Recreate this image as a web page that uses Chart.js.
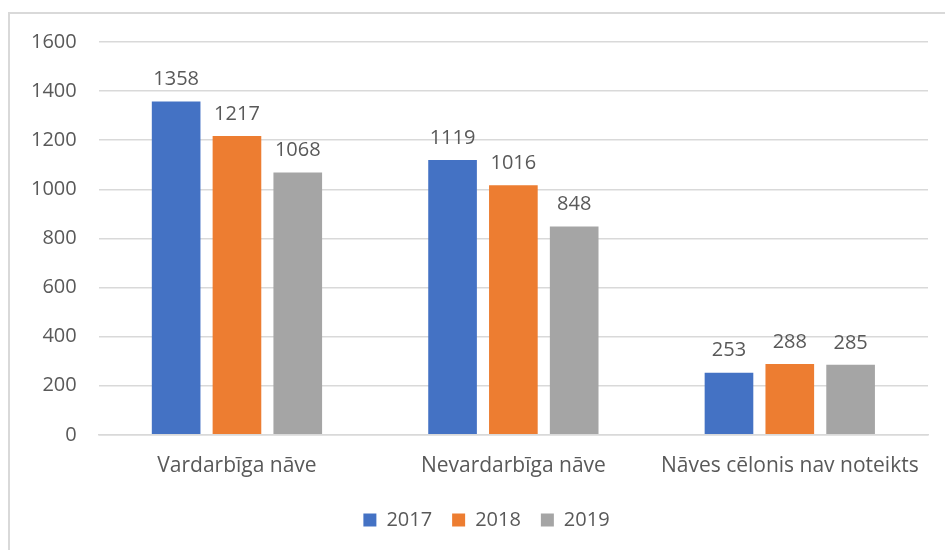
<!DOCTYPE html>
<html>
<head>
<meta charset="utf-8">
<script src="https://cdn.jsdelivr.net/npm/chart.js@4"></script>
<style>
  html, body { margin: 0; padding: 0; background: #fff; }
  #wrap { position: relative; width: 945px; height: 550px; }
  #frame { position: absolute; left: 8px; top: 12px; right: -5px; bottom: -5px;
           border-top: 2px solid #d9d9d9; border-left: 2px solid #d9d9d9; }
  canvas { position: absolute; left: 0; top: 0; }
</style>
</head>
<body>
<div id="wrap">
  <div id="frame"></div>
  <canvas id="chart" width="945" height="550"></canvas>
</div>
<script>
// categories and series
const categories = ["Vardarbīga nāve", "Nevardarbīga nāve", "Nāves cēlonis nav noteikts"];
const years = ["2017", "2018", "2019"];
const values2017 = [1358, 1119, 253];
const values2018 = [1217, 1016, 288];
const values2019 = [1068, 848, 285];
const colors = ["#4472C4", "#ED7D31", "#A5A5A5"];

const FONT = "'Open Sans', 'Liberation Sans', sans-serif";
const TEXT = "#595959";

// draws the value above each bar
const valueLabels = {
  id: "valueLabels",
  afterDatasetsDraw(chart) {
    const ctx = chart.ctx;
    ctx.save();
    ctx.font = "20px " + FONT;
    ctx.fillStyle = TEXT;
    ctx.textAlign = "center";
    ctx.textBaseline = "bottom";
    chart.data.datasets.forEach((ds, i) => {
      chart.getDatasetMeta(i).data.forEach((bar, j) => {
        ctx.fillText(ds.data[j], bar.x, bar.y - 12);
      });
    });
    ctx.restore();
  }
};

// legend in the original sits a bit right of the canvas centre
const legendShift = {
  id: "legendShift",
  afterLayout(chart) {
    chart.legend.left += 18;
    chart.legend.right += 18;
  }
};

const seriesValues = [values2017, values2018, values2019];

new Chart(document.getElementById("chart"), {
  type: "bar",
  data: {
    labels: categories,
    datasets: years.map((y, i) => ({
      label: y,
      data: seriesValues[i],
      backgroundColor: colors[i],
      categoryPercentage: 0.66,
      barPercentage: 0.8
    }))
  },
  options: {
    responsive: false,
    animation: false,
    layout: { padding: { top: 42, right: 17, left: 9, bottom: 10 } },
    scales: {
      x: {
        grid: { display: false },
        border: { display: true, color: "#d9d9d9", width: 1.5 },
        ticks: { color: TEXT, font: { family: FONT, size: 21 }, padding: 11 }
      },
      y: {
        min: 0,
        max: 1600,
        ticks: {
          stepSize: 200, color: TEXT, font: { family: FONT, size: 20 }, padding: 22,
          callback: v => String(v)
        },
        grid: { color: "#d9d9d9", lineWidth: 1.5, drawTicks: false },
        border: { display: false }
      }
    },
    plugins: {
      legend: {
        position: "bottom",
        labels: {
          color: TEXT,
          font: { family: FONT, size: 20 },
          boxWidth: 13,
          boxHeight: 13,
          padding: 20
        }
      },
      tooltip: { enabled: false }
    }
  },
  plugins: [valueLabels, legendShift]
});
</script>
</body>
</html>
